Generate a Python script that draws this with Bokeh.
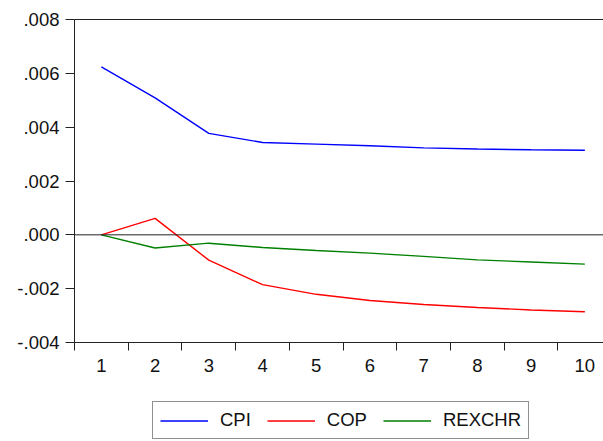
from bokeh.plotting import figure
from bokeh.models import (FixedTicker, LinearAxis, Range1d, Span, Legend, LegendItem)
from bokeh.layouts import column
from bokeh.embed import file_html
from bokeh.resources import INLINE

periods = [1, 2, 3, 4, 5, 6, 7, 8, 9, 10]
cpi = [0.00624, 0.00509, 0.00377, 0.00343, 0.00337, 0.00331, 0.00323, 0.00319, 0.00316, 0.00314]
cop = [0.0, 0.00061, -0.00094, -0.00185, -0.00221, -0.00244, -0.00259, -0.00270, -0.00279, -0.00286]
rexchr = [0.0, -0.00049, -0.00031, -0.00047, -0.00058, -0.00068, -0.00080, -0.00093, -0.00101, -0.00109]

series_names = ["CPI", "COP", "REXCHR"]
series_colors = ["#0000FF", "#FF0000", "#008000"]

y_ticks = [-0.004, -0.002, 0.0, 0.002, 0.004, 0.006, 0.008]
y_tick_labels = ["-.004", "-.002", ".000", ".002", ".004", ".006", ".008"]
x_minor = [0.5, 1.5, 2.5, 3.5, 4.5, 5.5, 6.5, 7.5, 8.5, 9.5, 10.5]

FONT = "Liberation Sans"
FS = "18.5px"
AX = "#222222"
TX = "#111111"

p = figure(width=603, height=382, output_backend="svg", toolbar_location=None,
           x_range=Range1d(0.5, 10.347), y_range=Range1d(-0.004, 0.008),
           min_border_left=74, min_border_right=0, min_border_top=19, min_border_bottom=40,
           x_axis_location="below")
p.outline_line_color = None
p.background_fill_color = "white"
p.border_fill_color = "white"
p.xgrid.visible = False
p.ygrid.visible = False

# x axis
xa = p.xaxis[0]
xa.ticker = FixedTicker(ticks=periods, minor_ticks=x_minor)
xa.major_tick_line_color = None
xa.major_tick_out = 8
xa.major_tick_in = 0
xa.minor_tick_out = 8
xa.minor_tick_in = 0
xa.minor_tick_line_color = AX
xa.axis_line_color = AX
xa.major_label_text_font = FONT
xa.major_label_text_font_size = FS
xa.major_label_text_color = TX
xa.major_label_standoff = 8

# y axis
ya = p.yaxis[0]
ya.ticker = FixedTicker(ticks=y_ticks, minor_ticks=[])
ya.major_label_overrides = {t: l for t, l in zip(y_ticks, y_tick_labels)}
ya.major_tick_out = 9
ya.major_tick_in = 0
ya.major_tick_line_color = AX
ya.axis_line_color = AX
ya.major_label_text_font = FONT
ya.major_label_text_font_size = FS
ya.major_label_text_color = TX
ya.major_label_standoff = 6

# top border line
top = LinearAxis(ticker=FixedTicker(ticks=[], minor_ticks=[]), axis_line_color=AX,
                 major_tick_line_color=None, minor_tick_line_color=None,
                 major_label_text_font_size="0px")
p.add_layout(top, "above")

p.add_layout(Span(location=0, dimension="width", line_color=AX, line_width=1))

for data, col in zip([cpi, cop, rexchr], series_colors):
    p.line(periods, data, line_color=col, line_width=1.4)

# legend strip below the chart (its lines lie outside its view; only the key is seen)
lg = figure(width=603, height=59, output_backend="svg", toolbar_location=None,
            x_range=Range1d(-2, -1), y_range=Range1d(-0.004, 0.008),
            min_border_left=0, min_border_right=0, min_border_top=0, min_border_bottom=0,
            x_axis_location=None, y_axis_location=None)
lg.outline_line_color = None
lg.xgrid.visible = False
lg.ygrid.visible = False
lg.background_fill_color = "white"
lg.border_fill_color = "white"

items = []
for name, data, col in zip(series_names, [cpi, cop, rexchr], series_colors):
    r = lg.line(periods, data, line_color=col, line_width=1.4)
    items.append(LegendItem(label=name, renderers=[r]))

legend = Legend(items=items, orientation="horizontal", location=(78, 2),
                label_text_font=FONT, label_text_font_size=FS, label_text_color=TX,
                glyph_width=48, glyph_height=19, label_standoff=12, spacing=16,
                padding=7, margin=0, border_line_color=AX, border_line_width=1,
                background_fill_alpha=1, label_height=19)
lg.add_layout(legend, "center")

layout = column(p, lg, spacing=0)
open("out.html", "w").write(file_html(layout, INLINE))
